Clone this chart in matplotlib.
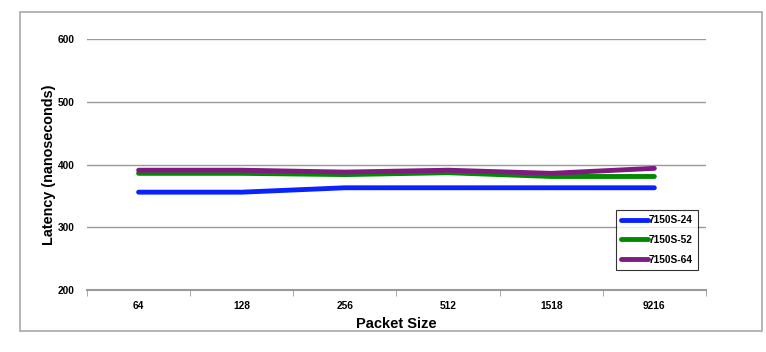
import matplotlib.pyplot as plt
from matplotlib.patches import Rectangle
import numpy as np

# packet sizes and latency (ns) per switch
packet_sizes = ["64", "128", "256", "512", "1518", "9216"]
lat_24 = [356, 356, 363, 363, 363, 363]
lat_52 = [386, 386, 384, 387, 381, 381]
lat_64 = [391, 391, 388, 391, 386, 394]
series_names = ["7150S-24", "7150S-52", "7150S-64"]
y_ticks = [200, 300, 400, 500, 600]

plt.rcParams['font.family'] = ['Liberation Sans', 'DejaVu Sans']
plt.rcParams['font.weight'] = 'bold'

fig = plt.figure(figsize=(7.66, 3.52), dpi=100)
ax = fig.add_axes([0.1136, 0.176, 0.808, 0.713])

# outer gray frame around the chart
fig.patches.append(Rectangle((0.026, 0.06), 0.969, 0.906, transform=fig.transFigure,
                             fill=False, edgecolor='#a8a8a8', linewidth=1.2))

x = np.arange(len(packet_sizes))
ax.plot(x, lat_24, color='#0a22ff', linewidth=3.5, label=series_names[0], solid_capstyle='round')
ax.plot(x, lat_52, color='#008a00', linewidth=3.5, label=series_names[1], solid_capstyle='round')
ax.plot(x, lat_64, color='#7f1a7f', linewidth=3.5, label=series_names[2], solid_capstyle='round')

ax.set_xlim(-0.5, len(packet_sizes) - 0.5)
ax.set_ylim(200, 600)
ax.set_yticks(y_ticks)
ax.yaxis.grid(True, color='#999999', linewidth=1)
ax.set_axisbelow(True)

ax.set_xticks(x)
ax.set_xticklabels(packet_sizes, fontsize=7.3, fontweight='bold')
ax.set_xticks(np.arange(-0.5, len(packet_sizes)), minor=True)
ax.tick_params(axis='x', which='major', length=0, pad=8)
ax.tick_params(axis='x', which='minor', length=4, color='#999999', direction='out')
ax.tick_params(axis='y', length=0, labelsize=7.3, pad=9)
for lbl in ax.get_yticklabels():
    lbl.set_fontweight('bold')

for s in ['top', 'right', 'left']:
    ax.spines[s].set_visible(False)
ax.spines['bottom'].set_color('#999999')
ax.spines['bottom'].set_linewidth(1.5)

ax.set_xlabel("Packet Size", fontsize=10.5, fontweight='bold', labelpad=4)
ax.set_ylabel("Latency (nanoseconds)", fontsize=10.4, fontweight='bold', labelpad=1)

leg = ax.legend(loc='upper left', bbox_to_anchor=(0.855, 0.318), fontsize=7.3,
                frameon=True, fancybox=False, handlelength=2.6, handletextpad=0.1,
                borderpad=0.5, labelspacing=0.95, borderaxespad=0)
leg.get_frame().set_edgecolor('black')
leg.get_frame().set_linewidth(0.8)
for t in leg.get_texts():
    t.set_fontweight('bold')

fig.savefig("out.png", dpi=100)
